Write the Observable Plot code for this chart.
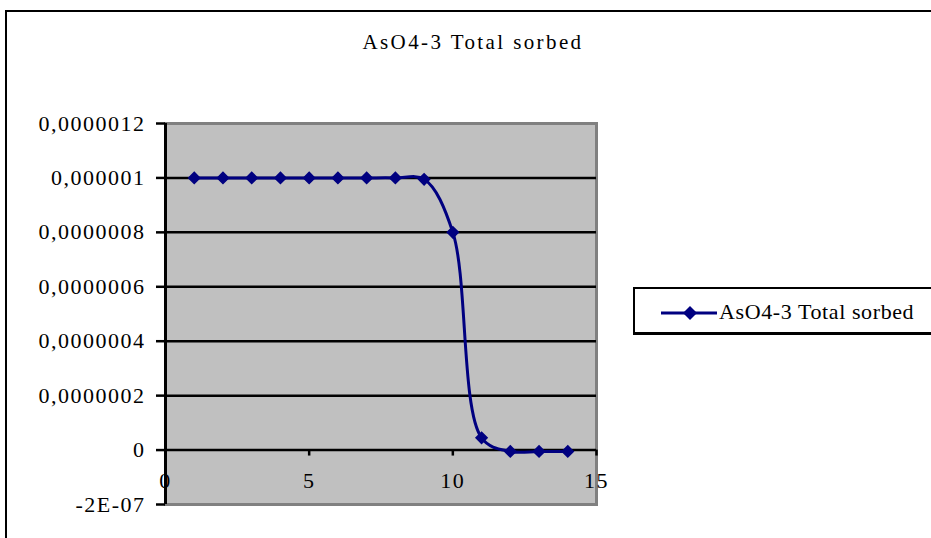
<!DOCTYPE html>
<html>
<head>
<meta charset="utf-8">
<script src="https://cdn.jsdelivr.net/npm/d3@7"></script>
<script src="https://cdn.jsdelivr.net/npm/@observablehq/plot@0.6"></script>
<style>
  html, body { margin: 0; padding: 0; background: #fff; }
  #wrap { position: relative; width: 931px; height: 538px; overflow: hidden; font-family: "Liberation Serif", "Times New Roman", serif; }
  #frame { position: absolute; left: 5px; top: 10px; width: 1000px; height: 700px; border: 2px solid #000; box-sizing: border-box; }
  #title { position: absolute; left: 0; width: 946px; top: 30px; text-align: center; font-size: 21px; letter-spacing: 2.4px; color: #000; }
  #chart { position: absolute; left: 0; top: 0; }
  #legend { position: absolute; left: 633px; top: 287px; width: 320px; height: 48px; border: 2px solid #000; border-bottom-width: 3px; background: #fff; box-sizing: border-box; }
  #legend svg { position: absolute; left: 24px; top: 12px; }
  #legend span { position: absolute; left: 84px; top: 10px; font-size: 22px; letter-spacing: 0.6px; white-space: nowrap; }
</style>
</head>
<body>
<div id="wrap">
  <div id="frame"></div>
  <div id="chart"></div>
  <div id="title">AsO4-3 Total sorbed</div>
  <div id="legend">
    <svg width="60" height="24"><line x1="2" y1="12" x2="58" y2="12" stroke="#000080" stroke-width="3"/><path d="M31,5 L38,12 L31,19 L24,12 Z" fill="#000080"/></svg>
    <span>AsO4-3 Total sorbed</span>
  </div>
</div>
<script>
const seriesName = "AsO4-3 Total sorbed";
const xValues = [1, 2, 3, 4, 5, 6, 7, 8, 9, 10, 11, 12, 13, 14];
const yValues = [1e-6, 1e-6, 1e-6, 1e-6, 1e-6, 1e-6, 1e-6, 1e-6, 0.995e-6, 0.8e-6, 0.045e-6, -0.005e-6, -0.005e-6, -0.005e-6];
const yTicks = [-2e-7, 0, 2e-7, 4e-7, 6e-7, 8e-7, 1e-6, 1.2e-6];
const yTickLabels = ["-2E-07", "0", "0,0000002", "0,0000004", "0,0000006", "0,0000008", "0,000001", "0,0000012"];
const gridValues = [2e-7, 4e-7, 6e-7, 8e-7, 1e-6];
const xTicks = [0, 5, 10, 15];
const xTickLabels = ["0", "5", "10", "15"];

const data = xValues.map((x, i) => ({x, y: yValues[i]}));

const chart = Plot.plot({
  width: 931,
  height: 538,
  marginLeft: 165,
  marginRight: 335,
  marginTop: 123,
  marginBottom: 34,
  style: {fontFamily: "Liberation Serif, Times New Roman, serif", fontSize: "22px", letterSpacing: "1.5px", background: "transparent", color: "#000"},
  x: {domain: [0, 15], axis: null},
  y: {domain: [-2e-7, 1.2e-6], axis: null},
  marks: [
    Plot.frame({fill: "#c0c0c0", stroke: "#808080", strokeWidth: 3}),
    Plot.ruleY(gridValues, {stroke: "#000", strokeWidth: 2.5}),
    Plot.ruleY([0], {stroke: "#000", strokeWidth: 2.5}),
    Plot.ruleX(xTicks, {y1: 0, y2: -2.2e-8, stroke: "#000", strokeWidth: 2.5}),
    Plot.text(xTicks, {x: d => d, y: 0, dy: 31, text: (d, i) => xTickLabels[i], fontSize: 22, fill: "#000"}),
    Plot.axisY({ticks: yTicks, tickFormat: d => yTickLabels[yTicks.indexOf(d)], tickSize: 9, tickPadding: 11, strokeWidth: 2.5, fontSize: 22, label: null}),
    Plot.ruleX([0], {stroke: "#000", strokeWidth: 3}),
    Plot.line(data, {x: "x", y: "y", stroke: "#000080", strokeWidth: 3, curve: "catmull-rom"}),
    Plot.dot(data, {x: "x", y: "y", symbol: "diamond2", r: 5, fill: "#000080", stroke: "#000080"})
  ]
});
document.getElementById("chart").appendChild(chart);
</script>
</body>
</html>
